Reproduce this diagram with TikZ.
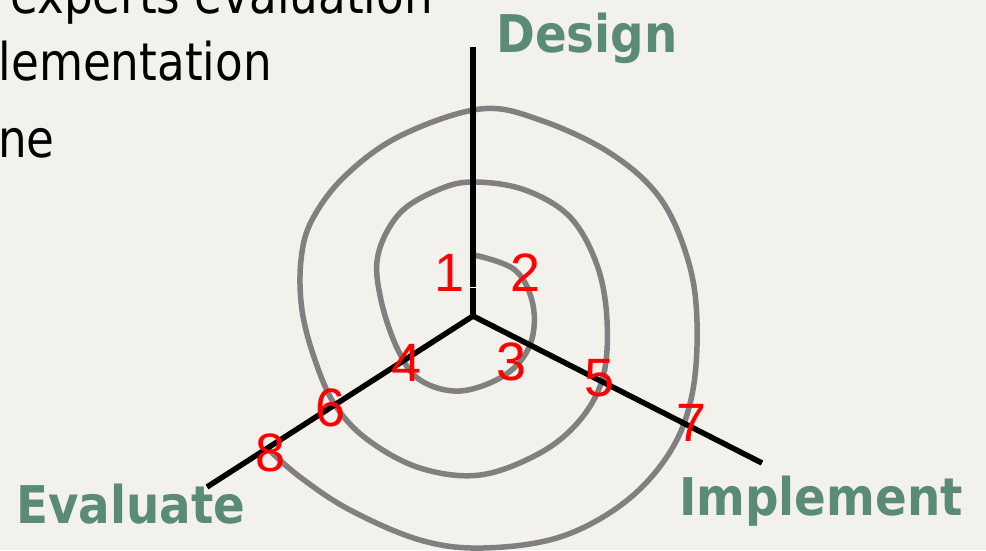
\documentclass[tikz,border=0pt]{standalone}
\usepackage{fontspec}
\setmainfont{DejaVu Sans}
\newfontfamily\bodyfont[FakeStretch=0.87]{DejaVu Sans}
\newfontfamily\labfont[FakeStretch=0.9]{DejaVu Sans}
\newfontfamily\numfont{Liberation Sans}
\definecolor{paper}{RGB}{243,241,236}
\definecolor{labgreen}{HTML}{5A8A78}
\definecolor{spiralgray}{HTML}{808080}
\definecolor{numred}{HTML}{FF0000}
\tikzset{
  axisline/.style={line width=5.5pt, black},
  spiralline/.style={line width=5.5pt, spiralgray},
  bodytext/.style={inner sep=0pt, font=\bodyfont\fontsize{52}{60}\selectfont, text=black},
  labeltext/.style={inner sep=0pt, anchor=base west, font=\labfont\bfseries\fontsize{52}{60}\selectfont, text=labgreen},
  numtext/.style={inner sep=0pt, font=\numfont\fontsize{54}{60}\selectfont, text=numred}
}
\begin{document}
\begin{tikzpicture}[x=1pt,y=-1pt]
\useasboundingbox (0,0) rectangle (986,550);
\fill[paper] (0,0) rectangle (986,550);
\begin{scope}
\clip (0,0) rectangle (986,550);
% body text fragments
\node[bodytext, anchor=base west] (t1) at (10,13) {experts evaluation};
\node[bodytext, anchor=base east] (t2) at (272,80) {lementation};
\node[bodytext, anchor=base east] (t3) at (55,157) {ne};
% spiral
\draw[spiralline] plot[smooth, tension=0.6] coordinates {
(474,255) (515,270) (533,305) (530,345) (505,375) (460,391) (420,380)
(398,350) (381,300) (378,255) (400,213) (440,189) (475,182) (525,190)
(570,217) (597,265) (607,320) (603,377) (580,420) (540,453) (480,475)
(420,468) (368,440) (335,405) (315,360) (302,310) (301,260) (312,220)
(345,176) (400,136) (480,109) (540,120) (610,153) (660,198) (688,260)
(697,322) (692,395) (670,452) (625,502) (560,537) (483,548) (420,540)
(350,510) (300,477) (268,449)};
\end{scope}
% axes
\coordinate (c) at (473,316);
\coordinate (d) at (473,47);
\coordinate (im) at (762,463);
\coordinate (ev) at (207,487);
\draw[axisline] (c) -- (d);
\draw[axisline] (c) -- (im);
\draw[axisline] (c) -- (ev);
\draw[white, line width=1pt] (470,287) -- (477,287);
% axis labels
\node[labeltext] (design) at (496,52) {Design};
\node[labeltext] (implement) at (679,515) {Implement};
\node[labeltext] (evaluate) at (16,523) {Evaluate};
% numbers
\node[numtext] (n1) at (450,273) {1};
\node[numtext] (n2) at (526,273) {2};
\node[numtext] (n3) at (512,362) {3};
\node[numtext] (n4) at (407,363) {4};
\node[numtext] (n5) at (600,378) {5};
\node[numtext] (n6) at (331,408) {6};
\node[numtext] (n7) at (692,423) {7};
\node[numtext] (n8) at (271,453) {8};
\end{tikzpicture}
\end{document}
